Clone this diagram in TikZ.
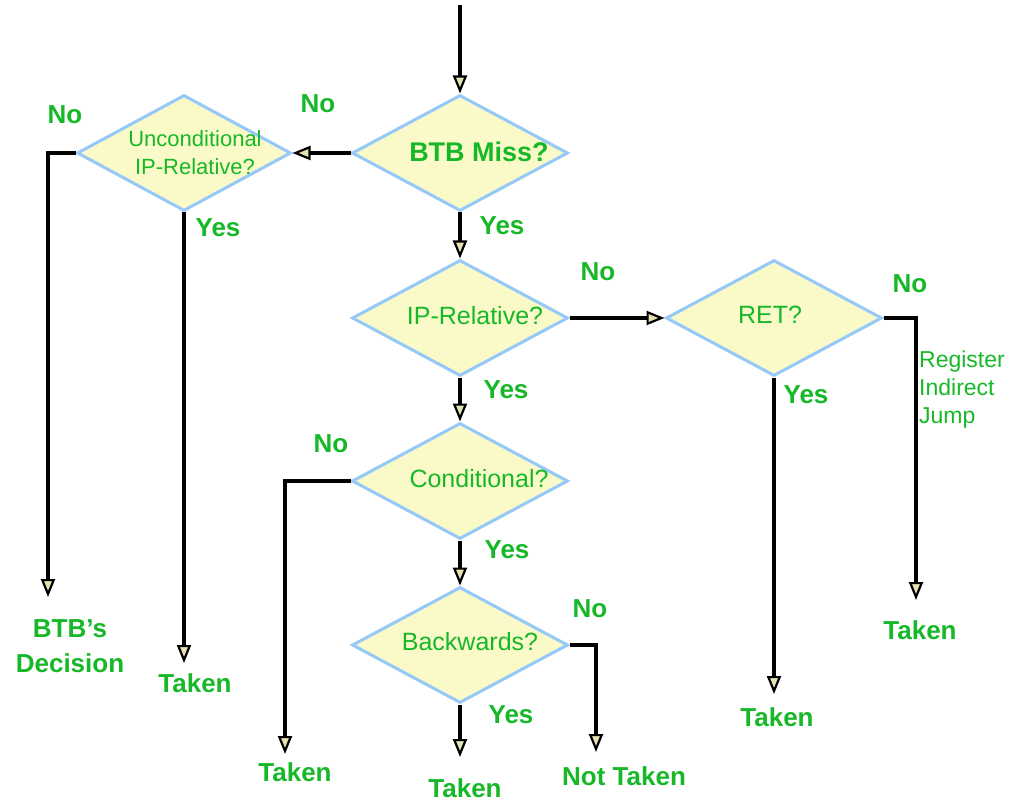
\documentclass[tikz,border=0pt]{standalone}
\usepackage{fontspec}
\setmainfont{Liberation Sans}
\usetikzlibrary{shapes.geometric,arrows.meta}
\definecolor{lblgreen}{RGB}{22,184,40}
\definecolor{boxfill}{RGB}{250,250,200}
\definecolor{boxline}{RGB}{150,200,250}
\definecolor{tipfill}{RGB}{230,226,180}
\begin{document}
\begin{tikzpicture}[x=1pt,y=-1pt,
  dec/.style={diamond, draw=boxline, fill=boxfill, line width=3pt, inner sep=0pt,
    minimum width=216pt, minimum height=116pt},
  qtext/.style={text=lblgreen, font=\fontsize{25}{28}\selectfont, align=center, inner sep=0pt},
  lbl/.style={text=lblgreen, font=\fontsize{26}{35}\selectfont\bfseries, align=center, inner sep=0pt},
  flow/.style={line width=4pt, line join=miter,
    -{Triangle[length=18pt,width=14pt,fill=tipfill,line width=2.2pt]}}
]
\useasboundingbox (0,0) rectangle (1023,805);

% decision diamonds
\node[dec] (btb) at (460,153) {};
\node[dec, minimum width=214pt] (unc) at (184,153) {};
\node[dec] (ipr) at (460,318) {};
\node[dec] (ret) at (774,318) {};
\node[dec] (cnd) at (460,481) {};
\node[dec] (bwd) at (460,645) {};

% questions inside the diamonds
\node[qtext, font=\fontsize{27}{30}\selectfont\bfseries] (qbtb) at (479,152) {BTB Miss?};
\node[qtext, font=\fontsize{22}{28}\selectfont] (qunc) at (195,153) {Unconditional\\IP-Relative?};
\node[qtext] (qipr) at (475,316) {IP-Relative?};
\node[qtext] (qret) at (770,315) {RET?};
\node[qtext] (qcnd) at (479,479) {Conditional?};
\node[qtext] (qbwd) at (470,642) {Backwards?};

% end points of the connectors
\coordinate (entry) at (460,5);
\coordinate (e1) at (48,597);
\coordinate (e2) at (184,663);
\coordinate (e3) at (285,754);
\coordinate (e4) at (460,757);
\coordinate (e5) at (596,752);
\coordinate (e6) at (774,694);
\coordinate (e7) at (916,600);

% connectors
\draw[flow] (entry) -- (btb.north);
\draw[flow] (btb.west) -- (unc.east);
\draw[flow] (unc.west) -| (e1);
\draw[flow] (unc.south) -- (e2);
\draw[flow] (btb.south) -- (ipr.north);
\draw[flow] (ipr.east) -- (ret.west);
\draw[flow] (ret.east) -| (e7);
\draw[flow] (ret.south) -- (e6);
\draw[flow] (ipr.south) -- (cnd.north);
\draw[flow] (cnd.west) -| (e3);
\draw[flow] (cnd.south) -- (bwd.north);
\draw[flow] (bwd.south) -- (e4);
\draw[flow] (bwd.east) -| (e5);

% branch labels
\node[lbl] (n1) at (65,115) {No};
\node[lbl] (n2) at (318,104) {No};
\node[lbl] (y1) at (218,228) {Yes};
\node[lbl] (y2) at (502,226) {Yes};
\node[lbl] (n3) at (598,272) {No};
\node[lbl] (n4) at (910,284) {No};
\node[lbl] (y3) at (506,390) {Yes};
\node[lbl] (y4) at (806,395) {Yes};
\node[lbl] (n5) at (331,444) {No};
\node[lbl] (y5) at (507,550) {Yes};
\node[lbl] (n6) at (590,609) {No};
\node[lbl] (y6) at (511,715) {Yes};

% outcomes
\node[lbl] (o1) at (70,646) {BTB’s\\Decision};
\node[lbl] (o2) at (195,683) {Taken};
\node[lbl] (o3) at (295,772) {Taken};
\node[lbl] (o4) at (465,788) {Taken};
\node[lbl] (o5) at (624,776) {Not Taken};
\node[lbl] (o6) at (777,717) {Taken};
\node[lbl] (o7) at (920,630) {Taken};
\node[qtext, font=\fontsize{23}{28}\selectfont, align=left, anchor=west] (o8) at (919,390)
  {Register\\Indirect\\Jump};
\end{tikzpicture}
\end{document}
